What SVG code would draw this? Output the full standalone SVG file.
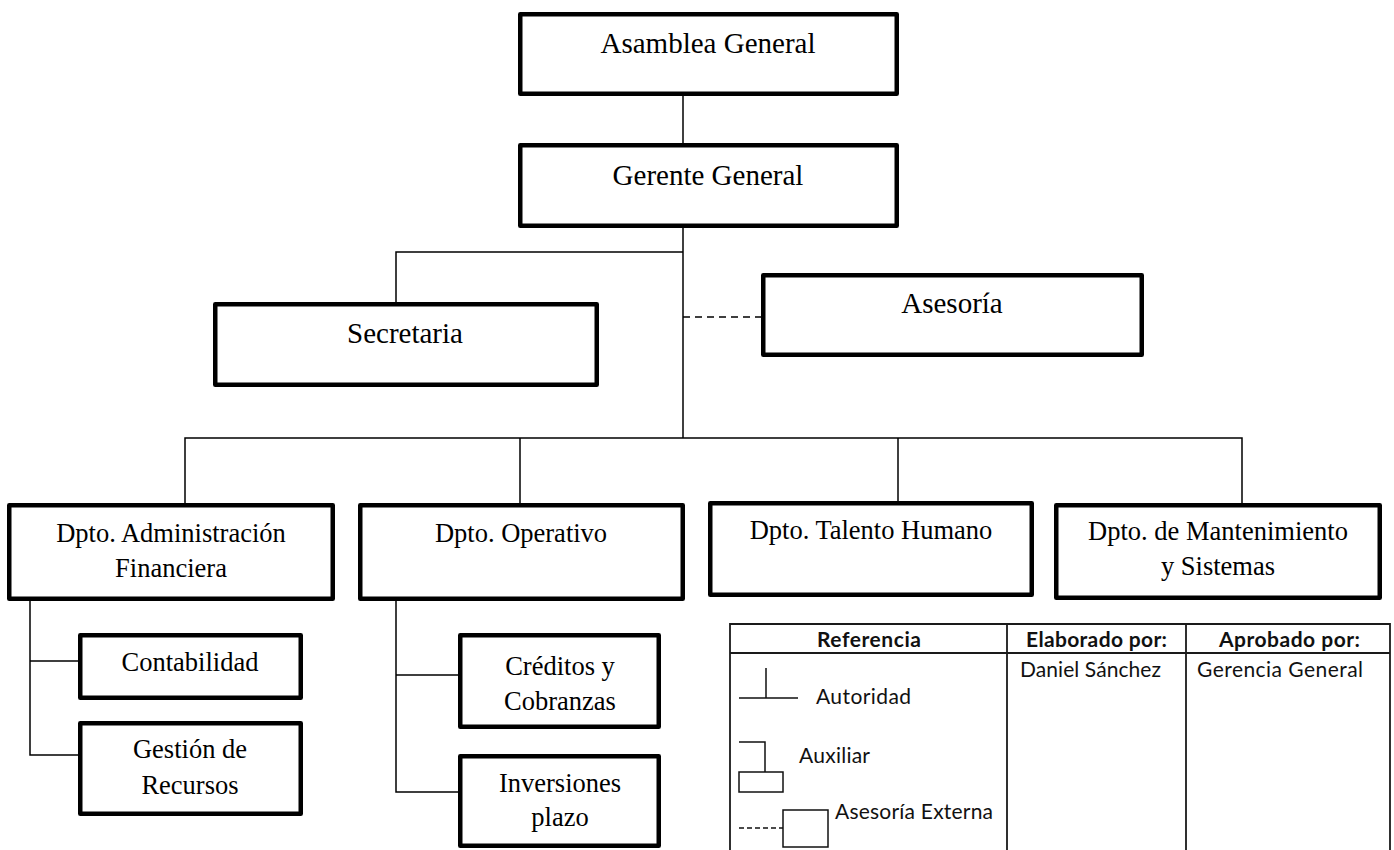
<svg xmlns="http://www.w3.org/2000/svg" width="1394" height="850" viewBox="0 0 1394 850">
  <style>
    .box { fill: #ffffff; stroke: #000000; stroke-width: 4.5; stroke-linejoin: round; }
    .lbl { font-family: "Liberation Serif", "Times New Roman", serif; fill: #000000; text-anchor: middle; }
    .big { font-size: 29px; }
    .mid { font-size: 26.5px; }
    .wire { fill: none; stroke: #000000; stroke-width: 1.5; }
    .dash { stroke-dasharray: 7 5; }
    .grid { fill: none; stroke: #1a1a1a; stroke-width: 1.8; }
    .leg { font-family: Lato, "Liberation Sans", sans-serif; font-size: 21px; fill: #111111; }
    .legb { font-weight: bold; }
    .sym { fill: #ffffff; stroke: #111111; stroke-width: 1.5; }
  </style>
  <rect width="1394" height="850" fill="#ffffff"/>

  <!-- reporting lines -->
  <g id="connectors">
    <path class="wire" d="M683 96 V143"/>
    <path class="wire" d="M683 228 V438"/>
    <path class="wire" d="M683 252 H396 V302"/>
    <path class="wire dash" d="M683 317 H761"/>
    <path class="wire" d="M185 503 V438 H1242 V503"/>
    <path class="wire" d="M520 438 V503"/>
    <path class="wire" d="M898 438 V501"/>
    <path class="wire" d="M30 601 V755 H78 M30 661 H78"/>
    <path class="wire" d="M396 601 V792 H458 M396 675 H458"/>
  </g>

  <g id="asamblea">
    <rect class="box" x="520.25" y="14.25" width="376.5" height="79.5"/>
    <text class="lbl big" x="708" y="53">Asamblea General</text>
  </g>
  <g id="gerente">
    <rect class="box" x="520.25" y="145.25" width="376.5" height="80.5"/>
    <text class="lbl big" x="708" y="185">Gerente General</text>
  </g>
  <g id="secretaria">
    <rect class="box" x="215.25" y="304.25" width="381.5" height="80.5"/>
    <text class="lbl big" x="405" y="343">Secretaria</text>
  </g>
  <g id="asesoria">
    <rect class="box" x="763.25" y="275.25" width="378.5" height="79.5"/>
    <text class="lbl big" x="952" y="313">Asesoría</text>
  </g>

  <g id="dpto-financiera">
    <rect class="box" x="9.25" y="505.25" width="323.5" height="93.5"/>
    <text class="lbl mid" x="171" y="542">Dpto. Administración</text>
    <text class="lbl mid" x="171" y="577">Financiera</text>
  </g>
  <g id="dpto-operativo">
    <rect class="box" x="360.25" y="505.25" width="322.5" height="93.5"/>
    <text class="lbl mid" x="521" y="542">Dpto. Operativo</text>
  </g>
  <g id="dpto-talento">
    <rect class="box" x="710.25" y="503.25" width="321.5" height="91.5"/>
    <text class="lbl mid" x="871" y="539">Dpto. Talento Humano</text>
  </g>
  <g id="dpto-mantenimiento">
    <rect class="box" x="1056.25" y="505.25" width="323.5" height="92.5"/>
    <text class="lbl mid" x="1218" y="540">Dpto. de Mantenimiento</text>
    <text class="lbl mid" x="1218" y="575">y Sistemas</text>
  </g>

  <g id="contabilidad">
    <rect class="box" x="80.25" y="635.25" width="220.5" height="62.5"/>
    <text class="lbl mid" x="190" y="671">Contabilidad</text>
  </g>
  <g id="gestion-recursos">
    <rect class="box" x="80.25" y="723.25" width="220.5" height="90.5"/>
    <text class="lbl mid" x="190" y="758">Gestión de</text>
    <text class="lbl mid" x="190" y="794">Recursos</text>
  </g>
  <g id="creditos">
    <rect class="box" x="460.25" y="635.25" width="198.5" height="91.5"/>
    <text class="lbl mid" x="560" y="675">Créditos y</text>
    <text class="lbl mid" x="560" y="710">Cobranzas</text>
  </g>
  <g id="inversiones">
    <rect class="box" x="460.25" y="756.25" width="198.5" height="89.5"/>
    <text class="lbl mid" x="560" y="792">Inversiones</text>
    <text class="lbl mid" x="560" y="826">plazo</text>
  </g>

  <!-- legend and sign-off table -->
  <g id="legend">
    <path class="grid" d="M730 852 V624 H1390 V852 M730 653 H1390 M1007 624 V852 M1186 624 V852"/>
    <text class="leg legb" x="817" y="647" textLength="104">Referencia</text>
    <text class="leg legb" x="1026" y="647" textLength="141">Elaborado por:</text>
    <text class="leg legb" x="1219" y="647" textLength="141">Aprobado por:</text>
    <text class="leg" x="1020" y="677" textLength="141">Daniel Sánchez</text>
    <text class="leg" x="1197" y="677" textLength="166">Gerencia General</text>

    <path class="sym" d="M766 668 V698 M739 698 H798"/>
    <text class="leg" x="816" y="704" textLength="95">Autoridad</text>

    <path class="sym" fill="none" d="M739 742 H765 V772"/>
    <rect class="sym" x="739" y="772" width="44" height="20"/>
    <text class="leg" x="799" y="763" textLength="71">Auxiliar</text>

    <path class="sym" d="M739 828 H783" stroke-dasharray="5 3"/>
    <rect class="sym" x="783" y="810" width="45" height="37"/>
    <text class="leg" x="835" y="819" textLength="158">Asesoría Externa</text>
  </g>
</svg>
